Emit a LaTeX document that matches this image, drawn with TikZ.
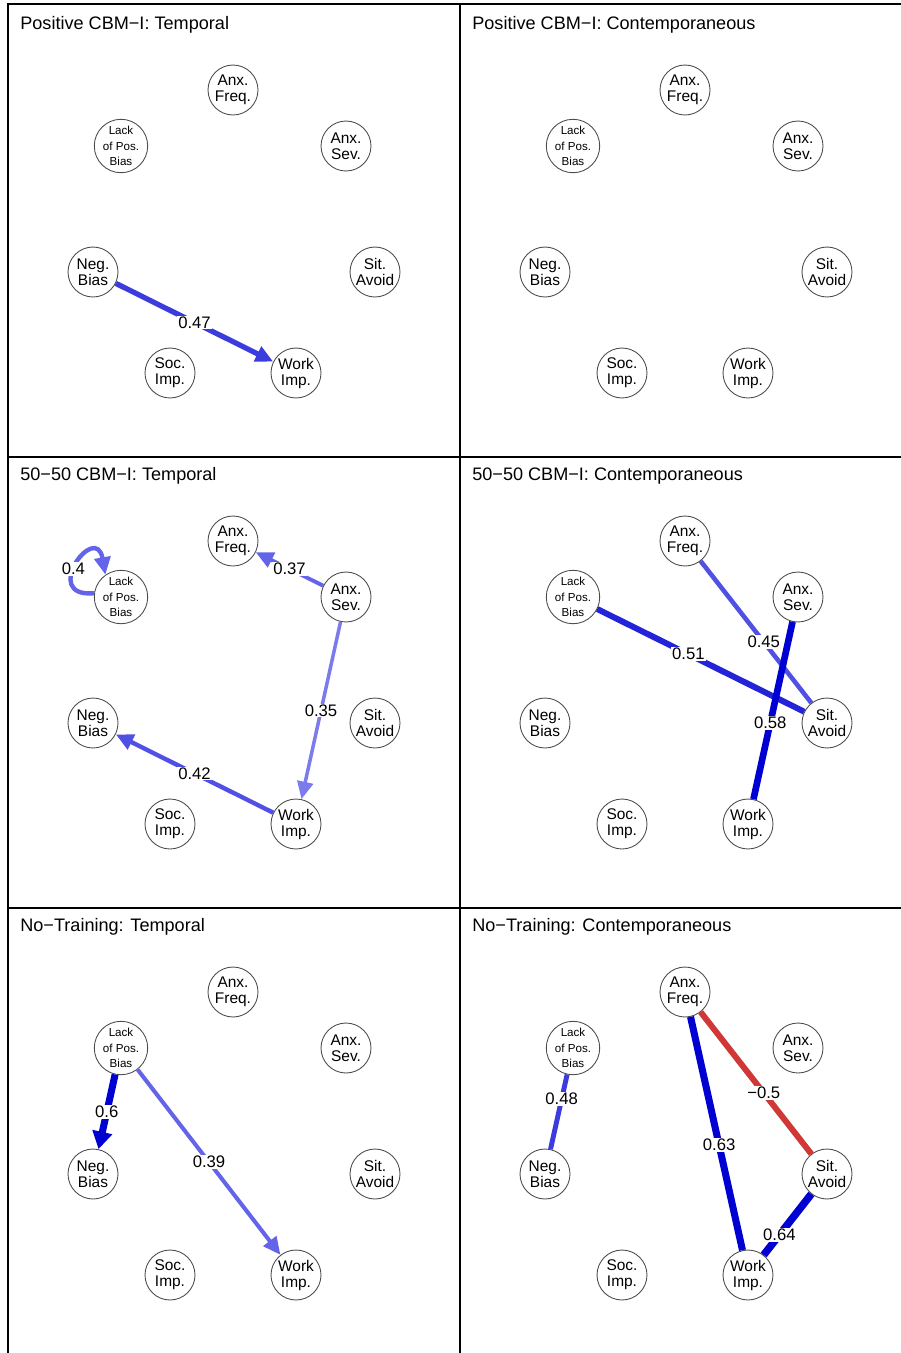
\documentclass[tikz,border=0pt]{standalone}
\usepackage{fontspec}
\setmainfont{Liberation Sans}
\usetikzlibrary{arrows.meta}

\definecolor{edgeA}{RGB}{0,0,210}
\definecolor{edgeB}{RGB}{35,35,215}
\definecolor{edgeC}{RGB}{60,60,222}
\definecolor{edgeD}{RGB}{80,80,228}
\definecolor{edgeE}{RGB}{100,100,234}
\definecolor{negedge}{RGB}{208,55,55}

\begin{document}
\begin{tikzpicture}[x=0.02cm,y=0.02cm,
  var/.style={circle,draw=black!70,line width=0.5pt,fill=white,minimum size=1cm,
    inner sep=0pt,align=center,font=\fontsize{8.8}{9.1}\selectfont},
  smallvar/.style={var,font=\fontsize{6.6}{8.8}\selectfont},
  wlabel/.style={fill=white,text=black,inner sep=0.6pt,font=\fontsize{9.5}{11}\selectfont},
  temporal/.style={-{Triangle[length=10pt,width=9pt]}},
  title/.style={anchor=base west,inner sep=0pt,font=\fontsize{10.3}{12}\selectfont}]
\useasboundingbox (0,0) rectangle (901,-1353);

%frame
\draw[line width=0.9pt] (901,-4) -- (8,-4) -- (8,-1353);
\draw[line width=0.9pt] (460,-4) -- (460,-1353);
\draw[line width=0.9pt] (8,-457) -- (901,-457);
\draw[line width=0.9pt] (8,-908) -- (901,-908);

%panel titles
\node[title] (ta) at (20,-29) {Positive CBM−I: Temporal};
\node[title] (tb) at (472,-29) {Positive CBM−I: Contemporaneous};
\node[title] (tc) at (20,-480) {50−50 CBM−I: Temporal};
\node[title] (td) at (472,-480) {50−50 CBM−I: Contemporaneous};
\node[title] (te) at (20,-931) {No−Training: Temporal};
\node[title] (tf) at (472,-931) {No−Training: Contemporaneous};

%same seven variables in every panel
\foreach \p/\dx/\dy in {a/0/0, b/452/0, c/0/451, d/452/451, e/0/902, f/452/902}{
  \node[var] (\p freq) at (233+\dx,-90-\dy) {Anx.\\Freq.};
  \node[smallvar] (\p lack) at (121+\dx,-146-\dy) {Lack\\of Pos.\\Bias};
  \node[var] (\p sev) at (346+\dx,-146-\dy) {Anx.\\Sev.};
  \node[var] (\p neg) at (93+\dx,-272-\dy) {Neg.\\Bias};
  \node[var] (\p sit) at (375+\dx,-272-\dy) {Sit.\\Avoid};
  \node[var] (\p soc) at (170+\dx,-373-\dy) {Soc.\\Imp.};
  \node[var] (\p work) at (296+\dx,-373-\dy) {Work\\Imp.};
}

%Positive CBM-I, temporal
\draw[temporal,edgeC,line width=3pt] (aneg) -- node[wlabel] {0.47} (awork);

%50-50 CBM-I, temporal
\draw[temporal,edgeE,line width=2.5pt] (clack.172) .. controls +(185:55) and +(100:55) .. node[wlabel,pos=0.45] {0.4} (clack.125);
\draw[temporal,edgeE,line width=2.2pt] (csev) -- node[wlabel] {0.37} (cfreq);
\draw[temporal,edgeE!85!white,line width=2pt] (csev) -- node[wlabel] {0.35} (cwork);
\draw[temporal,edgeD,line width=2.5pt] (cwork) -- node[wlabel] {0.42} (cneg);

%50-50 CBM-I, contemporaneous
\draw[edgeB,line width=3.4pt] (dlack) -- node[wlabel,pos=0.44] {0.51} (dsit);
\draw[edgeD,line width=2.6pt] (dfreq) -- node[wlabel,pos=0.57] {0.45} (dsit);
\draw[edgeA,line width=3.8pt] (dsev) -- node[wlabel,pos=0.57] {0.58} (dwork);

%No-Training, temporal
\draw[-{Triangle[length=10pt,width=11pt]},edgeA,line width=4pt] (elack) -- node[wlabel] {0.6} (eneg);
\draw[temporal,edgeE,line width=2.3pt] (elack) -- node[wlabel] {0.39} (ework);

%No-Training, contemporaneous
\draw[edgeC,line width=2.8pt] (flack) -- node[wlabel,pos=0.33] {0.48} (fneg);
\draw[edgeA,line width=4pt] (ffreq) -- node[wlabel,pos=0.55] {0.63} (fwork);
\draw[negedge,line width=3.4pt] (ffreq) -- node[wlabel,pos=0.57] {−0.5} (fsit);
\draw[edgeA,line width=4.3pt] (fsit) -- node[wlabel,pos=0.67] {0.64} (fwork);
\end{tikzpicture}
\end{document}
